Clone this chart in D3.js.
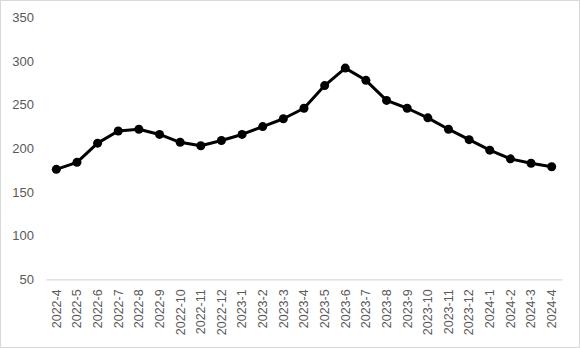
<!DOCTYPE html>
<html><head><meta charset="utf-8">
<script src="https://cdn.jsdelivr.net/npm/d3@7"></script>
<style>html,body{margin:0;padding:0;background:#fff;}svg{display:block;}</style>
</head><body>
<script>
const categories = ["2022-4","2022-5","2022-6","2022-7","2022-8","2022-9","2022-10","2022-11","2022-12","2023-1","2023-2","2023-3","2023-4","2023-5","2023-6","2023-7","2023-8","2023-9","2023-10","2023-11","2023-12","2024-1","2024-2","2024-3","2024-4"];
const values = [176,184,206,220,222,216,207,203,209,216,225,234,246,272,292,278,255,246,235,222,210,198,188,183,179];
const yTicks = [50,100,150,200,250,300,350];

const W = 580, H = 348;
const svg = d3.select("body").append("svg").attr("width", W).attr("height", H);
svg.append("rect").attr("x",0.5).attr("y",0.5).attr("width",W-1).attr("height",H-1)
  .attr("fill","#fff").attr("stroke","#d9d9d9");

const x = d3.scaleBand().domain(categories).range([46, 562]);
const y = d3.scaleLinear().domain([50, 350]).range([279.3, 17.5]);

// y axis labels
const yAxis = svg.append("g").attr("transform","translate(34,0)")
  .call(d3.axisLeft(y).tickValues(yTicks).tickSize(0).tickPadding(0));
yAxis.select(".domain").remove();
yAxis.selectAll("text").attr("fill","#595959").style("font-family","'Liberation Sans', Arial, sans-serif").style("font-size","13px");

// x axis
const xAxis = svg.append("g").attr("transform",`translate(0,${y(50)})`)
  .call(d3.axisBottom(x).tickSize(0).tickPadding(0));
xAxis.select(".domain").attr("stroke","#d9d9d9").attr("stroke-width",1.3);
xAxis.selectAll("text")
  .attr("fill","#595959")
  .style("font-family","'Liberation Sans', Arial, sans-serif").style("font-size","12.5px")
  .attr("transform","rotate(-90)")
  .attr("text-anchor","end")
  .attr("x",-10).attr("y",0).attr("dy","0.35em");

const line = d3.line().x((d,i)=>x(categories[i])+x.bandwidth()/2).y(d=>y(d));
svg.append("path").datum(values).attr("d",line).attr("fill","none")
  .attr("stroke","#000").attr("stroke-width",3).attr("stroke-linejoin","round");
svg.append("g").selectAll("circle").data(values).join("circle")
  .attr("cx",(d,i)=>x(categories[i])+x.bandwidth()/2).attr("cy",d=>y(d))
  .attr("r",4.5).attr("fill","#000");
</script>
</body></html>
